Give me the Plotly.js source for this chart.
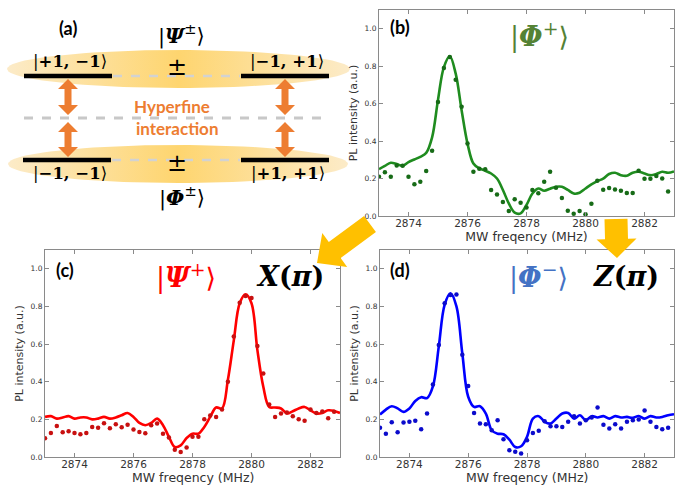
<!DOCTYPE html>
<html><head><meta charset="utf-8">
<script src="https://cdn.plot.ly/plotly-3.0.1.min.js"></script>
<style>html,body{margin:0;padding:0;background:#fff}#chart{width:675px;height:485px}</style>
</head><body><div id="chart"></div>
<script>
// ---------- data ----------
const ptFreq = [2873.0,2873.2,2873.4,2873.6,2873.8,2874.0,2874.2,2874.4,2874.6,2874.8,
  2875.0,2875.2,2875.4,2875.6,2875.8,2876.0,2876.2,2876.4,2876.6,2876.8,
  2877.0,2877.2,2877.4,2877.6,2877.8,2878.0,2878.2,2878.4,2878.6,2878.8,
  2879.0,2879.2,2879.4,2879.6,2879.8,2880.0,2880.2,2880.4,2880.6,2880.8,
  2881.0,2881.2,2881.4,2881.6,2881.8,2882.0,2882.2,2882.4,2882.6,2882.8];
const fitFreq = [2873.0,2873.2,2873.4,2873.6,2873.8,2874.0,2874.2,2874.4,2874.6,2874.8,
  2875.0,2875.2,2875.4,2875.6,2875.8,2876.0,2876.2,2876.4,2876.6,2876.8,
  2877.0,2877.2,2877.4,2877.6,2877.8,2878.0,2878.2,2878.4,2878.6,2878.8,
  2879.0,2879.2,2879.4,2879.6,2879.8,2880.0,2880.2,2880.4,2880.6,2880.8,
  2881.0,2881.2,2881.4,2881.6,2881.8,2882.0,2882.2,2882.4,2882.6,2882.8,2883.0];

// (b) |Phi+>
const ptsB = [0.21,0.234,0.21,0.27,0.268,0.21,0.169,0.183,0.24,0.348,0.609,0.79,0.849,0.728,0.583,0.387,0.236,0.252,0.249,0.139,0.115,0.075,0.027,0.09,0.071,0.046,0.139,0.121,0.183,0.236,0.151,0.096,0.028,0.012,0.027,0.009,0.066,0.188,0.14,0.149,0.142,0.135,0.123,0.123,0.242,0.199,0.199,0.213,0.2,0.131];
const fitB = [0.25,0.268,0.284,0.277,0.268,0.288,0.302,0.316,0.337,0.42,0.62,0.795,0.853,0.76,0.565,0.387,0.28,0.254,0.242,0.227,0.2,0.139,0.067,0.018,0.014,0.059,0.12,0.147,0.135,0.146,0.156,0.156,0.139,0.12,0.124,0.147,0.169,0.186,0.2,0.224,0.231,0.218,0.215,0.231,0.236,0.227,0.218,0.224,0.236,0.231,0.238];
// (c) |Psi+>
const ptsC = [0.099,0.128,0.165,0.131,0.137,0.128,0.121,0.128,0.16,0.156,0.179,0.153,0.174,0.158,0.172,0.146,0.133,0.126,0.169,0.178,0.123,0.103,0.039,0.027,0.05,0.107,0.107,0.2,0.22,0.213,0.252,0.4,0.64,0.82,0.856,0.845,0.59,0.444,0.279,0.213,0.231,0.236,0.217,0.2,0.192,0.252,0.234,0.242,0.206,0.24];
const fitC = [0.213,0.217,0.204,0.21,0.217,0.204,0.21,0.21,0.2,0.204,0.213,0.204,0.21,0.222,0.234,0.213,0.181,0.169,0.181,0.204,0.169,0.107,0.053,0.062,0.101,0.124,0.124,0.16,0.213,0.263,0.258,0.41,0.62,0.817,0.865,0.817,0.568,0.373,0.266,0.263,0.258,0.231,0.243,0.258,0.266,0.248,0.231,0.234,0.248,0.245,0.234];
// (d) |Phi->
const ptsD = [0.155,0.124,0.185,0.131,0.183,0.187,0.192,0.147,0.231,0.385,0.595,0.817,0.861,0.863,0.544,0.377,0.234,0.178,0.174,0.142,0.195,0.094,0.036,0.028,0.018,0.089,0.128,0.139,0.19,0.163,0.163,0.16,0.187,0.217,0.178,0.195,0.21,0.263,0.172,0.151,0.174,0.151,0.187,0.195,0.199,0.247,0.187,0.16,0.147,0.155];
const fitD = [0.226,0.252,0.27,0.258,0.24,0.258,0.298,0.318,0.313,0.375,0.588,0.81,0.87,0.8,0.55,0.32,0.266,0.27,0.231,0.142,0.124,0.121,0.092,0.053,0.057,0.107,0.204,0.217,0.187,0.178,0.204,0.231,0.234,0.204,0.222,0.195,0.217,0.21,0.217,0.204,0.217,0.21,0.213,0.208,0.218,0.204,0.217,0.21,0.213,0.222,0.227];

const xTicks = [2874,2876,2878,2880,2882];
const yTicks = [0,0.2,0.4,0.6,0.8,1.0];
const yTickText = ['0.0','0.2','0.4','0.6','0.8','1.0'];
const xTitle = 'MW freqency (MHz)';
const yTitle = 'PL intensity (a.u.)';

// ---------- helpers ----------
const W = 675, H = 485;
const px = v => v / W, py = v => 1 - v / H;
const AX = '#8a8a8a';
const TITLE_FONT = {family:'DejaVu Sans', size:12.5, color:'#333'};

function xAxis(l, r, anchor, withTitle) {
  const a = {domain:[px(l), px(r)], range:[2873,2883], anchor:anchor,
    tickvals:xTicks, ticks:'inside', ticklen:4, tickcolor:AX, showline:true, mirror:'ticks',
    linecolor:AX, linewidth:1, showgrid:false, zeroline:false, fixedrange:true, ticklabelstandoff:-3,
    tickfont:{family:'DejaVu Sans', size:10.5, color:'#333'}};
  if (withTitle) a.title = {text:xTitle, font:TITLE_FONT, standoff:2};
  return a;
}
function yAxis(b, t, anchor) {
  return {domain:[py(b), py(t)], range:[0,1.1], anchor:anchor,
    tickvals:yTicks, ticktext:yTickText, ticks:'inside', ticklen:4, tickcolor:AX, showline:true, mirror:'ticks',
    linecolor:AX, linewidth:1, showgrid:false, zeroline:false, fixedrange:true,
    tickfont:{family:'DejaVu Sans', size:7.5, color:'#333'},
    title:{text:yTitle, font:{family:'DejaVu Sans', size:11, color:'#333'}, standoff:4}};
}
function fitTrace(y, color, xa, ya) {
  return {x:fitFreq, y:y, xaxis:xa, yaxis:ya, mode:'lines', line:{color:color, width:2.6, shape:'spline', smoothing:1}, hoverinfo:'skip'};
}
function ptTrace(y, color, xa, ya) {
  return {x:ptFreq, y:y, xaxis:xa, yaxis:ya, mode:'markers', marker:{color:color, size:4.5}, hoverinfo:'skip'};
}
function ellipse(cx, cy, rx, ry) {
  const xs = [], ys = [];
  for (let i = 0; i <= 96; i++) { const t = 2*Math.PI*i/96; xs.push(cx + rx*Math.cos(t)); ys.push(cy + ry*Math.sin(t)); }
  return {x:xs, y:ys, xaxis:'x4', yaxis:'y4', mode:'lines', fill:'toself', line:{width:0, color:'rgba(0,0,0,0)'},
    fillgradient:{type:'horizontal', colorscale:[[0,'#fcebc8'],[0.5,'#fed56f'],[1,'#fcebc8']]}, hoverinfo:'skip'};
}
// block arrow polygon (pixel coords -> paper)
function blockArrow(tx, ty, hx, hy, sw, hw, hl) {
  const dx = hx - tx, dy = hy - ty, L = Math.hypot(dx, dy);
  const ux = dx/L, uy = dy/L, nx = -uy, ny = ux;
  const bx = hx - ux*hl, by = hy - uy*hl;
  const pts = [[tx+nx*sw/2, ty+ny*sw/2],[bx+nx*sw/2, by+ny*sw/2],[bx+nx*hw/2, by+ny*hw/2],[hx,hy],
               [bx-nx*hw/2, by-ny*hw/2],[bx-nx*sw/2, by-ny*sw/2],[tx-nx*sw/2, ty-ny*sw/2]];
  return 'M' + pts.map(p => px(p[0]).toFixed(5)+','+py(p[1]).toFixed(5)).join(' L') + ' Z';
}
// vertical double arrow in panel-(a) pixel coordinates (x4/y4)
function dblArrow(x, y1, y2) {
  const hw = 10, sw = 3.5, hl = 10;
  return `M${x},${y1} L${x+hw},${y1+hl} L${x+sw},${y1+hl} L${x+sw},${y2-hl} L${x+hw},${y2-hl} L${x},${y2} L${x-hw},${y2-hl} L${x-sw},${y2-hl} L${x-sw},${y1+hl} L${x-hw},${y1+hl} Z`;
}

const traces = [
  ellipse(178.5, 69, 171.5, 19),
  ellipse(178, 164, 170, 19),
  fitTrace(fitB, '#1f8c1f', 'x', 'y'), ptTrace(ptsB, '#176b17', 'x', 'y'),
  fitTrace(fitC, '#ff0000', 'x2', 'y2'), ptTrace(ptsC, '#c81010', 'x2', 'y2'),
  fitTrace(fitD, '#0000ff', 'x3', 'y3'), ptTrace(ptsD, '#0b0bcc', 'x3', 'y3')
];

const ORANGE = '#ed7d31', YEL = '#ffc000';
const shapes = [
  // level bars
  {type:'line', xref:'x4', yref:'y4', x0:24, x1:112, y0:76, y1:76, line:{color:'#000', width:4.5}},
  {type:'line', xref:'x4', yref:'y4', x0:241, x1:329, y0:76, y1:76, line:{color:'#000', width:4.5}},
  {type:'line', xref:'x4', yref:'y4', x0:23, x1:111, y0:160, y1:160, line:{color:'#000', width:4.5}},
  {type:'line', xref:'x4', yref:'y4', x0:241, x1:329, y0:160, y1:160, line:{color:'#000', width:4.5}},
  // dashed guides
  {type:'line', xref:'x4', yref:'y4', x0:113, x1:240, y0:76, y1:76, line:{color:'#d2d2d2', width:2.5, dash:'dash'}},
  {type:'line', xref:'x4', yref:'y4', x0:112, x1:240, y0:160, y1:160, line:{color:'#d2d2d2', width:2.5, dash:'dash'}},
  {type:'line', xref:'x4', yref:'y4', x0:24, x1:327, y0:118, y1:118, line:{color:'#c8c8c8', width:3, dash:'dash'}},
  // orange double arrows
  {type:'path', xref:'x4', yref:'y4', path:dblArrow(68, 79, 115), fillcolor:ORANGE, line:{width:0}},
  {type:'path', xref:'x4', yref:'y4', path:dblArrow(68, 122, 157), fillcolor:ORANGE, line:{width:0}},
  {type:'path', xref:'x4', yref:'y4', path:dblArrow(285, 79, 115), fillcolor:ORANGE, line:{width:0}},
  {type:'path', xref:'x4', yref:'y4', path:dblArrow(285, 122, 157), fillcolor:ORANGE, line:{width:0}},
  // big yellow arrows
  {type:'path', xref:'paper', yref:'paper', path:blockArrow(370, 224, 317, 263, 20, 42, 22), fillcolor:YEL, line:{width:0}, layer:'above'},
  {type:'path', xref:'paper', yref:'paper', path:blockArrow(616, 219, 617, 258, 23, 40, 19), fillcolor:YEL, line:{width:0}, layer:'above'}
];

function ann(x, y, text, size, color, family) {
  return {xref:'paper', yref:'paper', x:px(x), y:py(y), xanchor:'center', yanchor:'middle', showarrow:false,
    text:text, font:{size:size, color:color, family:family}};
}
const SERIF = 'DejaVu Serif', SANS = 'Lato';
const annotations = [
  ann(68, 28, '<b>(a)</b>', 18, '#000', SANS),
  ann(182, 35, '|<b><i>Ψ</i></b><sup>±</sup>⟩', 21, '#000', SERIF),
  ann(70, 62, '|<b>+1, −1</b>⟩', 16.5, '#000', SERIF),
  ann(287, 62, '|<b>−1, +1</b>⟩', 16.5, '#000', SERIF),
  ann(177, 67, '±', 24, '#000', SERIF),
  ann(172, 106, '<b>Hyperfine</b>', 17, ORANGE, SANS),
  ann(177, 129, '<b>interaction</b>', 17, ORANGE, SANS),
  ann(177, 163, '±', 24, '#000', SERIF),
  ann(70, 173, '|<b>−1, −1</b>⟩', 16.5, '#000', SERIF),
  ann(288, 173, '|<b>+1, +1</b>⟩', 16.5, '#000', SERIF),
  ann(182, 196, '|<b><i>Φ</i></b><sup>±</sup>⟩', 21, '#000', SERIF),
  ann(400, 27, '<b>(b)</b>', 18, '#000', SANS),
  ann(539, 35, '|<b><i>Φ</i></b><sup>+</sup>⟩', 27, '#548235', SERIF),
  ann(65, 270, '<b>(c)</b>', 18, '#000', SANS),
  ann(186, 276, '|<b><i>Ψ</i></b><sup>+</sup>⟩', 27, '#ff0000', SERIF),
  ann(290, 276, '<b><i>X</i>(<i>π</i>)</b>', 27, '#000', SERIF),
  ann(400, 270, '<b>(d)</b>', 18, '#000', SANS),
  ann(538, 276, '|<b><i>Φ</i></b><sup>−</sup>⟩', 27, '#4472c4', SERIF),
  ann(626, 276, '<b><i>Z</i>(<i>π</i>)</b>', 27, '#000', SERIF),
  // x-axis titles of the lower panels
  ann(192.5, 477, xTitle, 12.5, '#333', 'DejaVu Sans'),
  ann(527, 477, xTitle, 12.5, '#333', 'DejaVu Sans')
];

const layout = {
  width:W, height:H, margin:{l:0, r:0, t:0, b:0}, showlegend:false,
  paper_bgcolor:'#fff', plot_bgcolor:'rgba(0,0,0,0)',
  xaxis: xAxis(379, 674, 'y', true),  yaxis: yAxis(216, 10, 'x'),
  xaxis2: xAxis(45, 340, 'y2', false), yaxis2: yAxis(457, 250, 'x2'),
  xaxis3: xAxis(380, 674, 'y3', false), yaxis3: yAxis(457, 250, 'x3'),
  xaxis4: {domain:[0, px(360)], range:[0,360], anchor:'y4', visible:false, fixedrange:true},
  yaxis4: {domain:[py(200), 1], range:[200,0], anchor:'x4', visible:false, fixedrange:true},
  shapes:shapes, annotations:annotations
};
Plotly.newPlot('chart', traces, layout, {displayModeBar:false, staticPlot:true});
</script></body></html>
